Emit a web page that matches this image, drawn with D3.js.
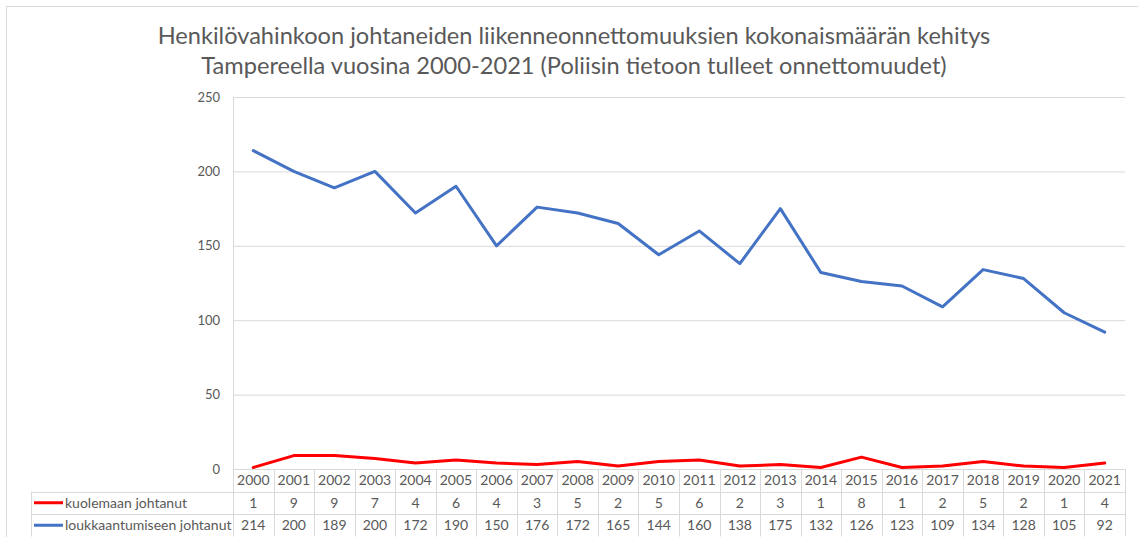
<!DOCTYPE html>
<meta charset="utf-8">
<head>
<script src="https://cdn.jsdelivr.net/npm/d3@7"></script>
<style>
	body { margin: 0; background: #fff; }
	text { font-family: Lato, "Open Sans", sans-serif; fill: #595959; }
</style>
</head>
<body>
<div id="chart"></div>
<script>

// data
const years = ['2000','2001','2002','2003','2004','2005','2006','2007','2008','2009','2010',
	'2011','2012','2013','2014','2015','2016','2017','2018','2019','2020','2021']
const kuolemaan = [1, 9, 9, 7, 4, 6, 4, 3, 5, 2, 5, 6, 2, 3, 1, 8, 1, 2, 5, 2, 1, 4]
const loukkaantumiseen = [214, 200, 189, 200, 172, 190, 150, 176, 172, 165, 144, 160, 138, 175, 132, 126, 123, 109, 134, 128, 105, 92]
const yTicks = [0, 50, 100, 150, 200, 250]
const titleLines = ['Henkilövahinkoon johtaneiden liikenneonnettomuuksien kokonaismäärän kehitys',
	'Tampereella vuosina 2000-2021 (Poliisin tietoon tulleet onnettomuudet)']

const series = [
	{name: 'kuolemaan johtanut', values: kuolemaan, color: '#ff0000'},
	{name: 'loukkaantumiseen johtanut', values: loukkaantumiseen, color: '#4472c4'}
]

const W = 1138, H = 537
const plot = {left: 233, right: 1125, top: 97, bottom: 469}
const rowH = 22.5
const tableLeft = 31
const gridColor = '#d9d9d9'

const svg = d3.select('#chart').append('svg')
	.attr('width', W)
	.attr('height', H)

// outer chart frame (cut off at right / bottom)
svg.append('rect')
	.attr('x', 6.5).attr('y', 6.5)
	.attr('width', W).attr('height', H)
	.attr('fill', 'none')
	.attr('stroke', gridColor)

svg.selectAll('.title')
	.data(titleLines)
	.enter().append('text')
	.attr('class', 'title')
	.attr('x', 574)
	.attr('y', (d, i) => 44 + i * 30)
	.attr('text-anchor', 'middle')
	.style('font-size', '23.6px')
	.text(d => d)

const x = d3.scaleBand()
	.domain(years)
	.range([plot.left, plot.right])

const y = d3.scaleLinear()
	.domain([0, 250])
	.range([plot.bottom, plot.top])

// gridlines + y labels
const yAxis = svg.append('g')
	.attr('transform', `translate(${plot.left},0)`)
	.call(d3.axisLeft(y).tickValues(yTicks).tickSize(-(plot.right - plot.left)).tickPadding(13))
yAxis.select('.domain').remove()
yAxis.selectAll('line').attr('stroke', gridColor)
yAxis.selectAll('text')
	.style('font-size', '13px')
	.style('font-family', 'Lato, sans-serif')
	.attr('fill', '#595959')

// y axis vertical line
svg.append('line')
	.attr('x1', plot.left + 0.5).attr('x2', plot.left + 0.5)
	.attr('y1', plot.top).attr('y2', plot.bottom)
	.attr('stroke', gridColor)

////////////////////////////////////
// DATA TABLE
////////////////////////////////////

const table = svg.append('g').attr('class', 'table')
const tableTop = plot.bottom
const tableBottom = tableTop + rowH * 3

// horizontal lines
table.selectAll('.hline')
	.data([0, 1, 2, 3])
	.enter().append('line')
	.attr('x1', d => d === 0 ? plot.left : tableLeft)
	.attr('x2', plot.right)
	.attr('y1', d => Math.round(tableTop + d * rowH) + 0.5)
	.attr('y2', d => Math.round(tableTop + d * rowH) + 0.5)
	.attr('stroke', gridColor)

// vertical column separators
const colEdges = years.map(yr => x(yr)).concat([plot.right])
table.selectAll('.vline')
	.data(colEdges)
	.enter().append('line')
	.attr('x1', d => Math.round(d) + 0.5).attr('x2', d => Math.round(d) + 0.5)
	.attr('y1', tableTop).attr('y2', tableBottom)
	.attr('stroke', gridColor)

table.append('line')
	.attr('x1', tableLeft + 0.5).attr('x2', tableLeft + 0.5)
	.attr('y1', tableTop + rowH).attr('y2', tableBottom)
	.attr('stroke', gridColor)

// year header
table.selectAll('.year')
	.data(years)
	.enter().append('text')
	.attr('x', d => x(d) + x.bandwidth() / 2)
	.attr('y', tableTop + rowH / 2 + 5)
	.attr('text-anchor', 'middle')
	.style('font-size', '14px')
	.text(d => d)

series.forEach((s, si) => {
	const rowY = tableTop + rowH * (si + 1) + rowH / 2

	table.append('line')
		.attr('x1', 34).attr('x2', 63)
		.attr('y1', rowY).attr('y2', rowY)
		.attr('stroke', s.color)
		.attr('stroke-width', 3)

	table.append('text')
		.attr('x', 65)
		.attr('y', rowY + 5)
		.style('font-size', '14px')
		.text(s.name)

	table.selectAll('.val' + si)
		.data(s.values)
		.enter().append('text')
		.attr('x', (d, i) => x(years[i]) + x.bandwidth() / 2)
		.attr('y', rowY + 5)
		.attr('text-anchor', 'middle')
		.style('font-size', '14px')
		.text(d => d)
})

////////////////////////////////////
// LINES
////////////////////////////////////

const line = d3.line()
	.x((d, i) => x(years[i]) + x.bandwidth() / 2)
	.y(d => y(d))

svg.selectAll('.series')
	.data(series.slice().reverse())
	.enter().append('path')
	.attr('d', d => line(d.values))
	.attr('fill', 'none')
	.attr('stroke', d => d.color)
	.attr('stroke-width', 3)
	.attr('stroke-linejoin', 'round')
	.attr('stroke-linecap', 'round')

</script>
</body>
